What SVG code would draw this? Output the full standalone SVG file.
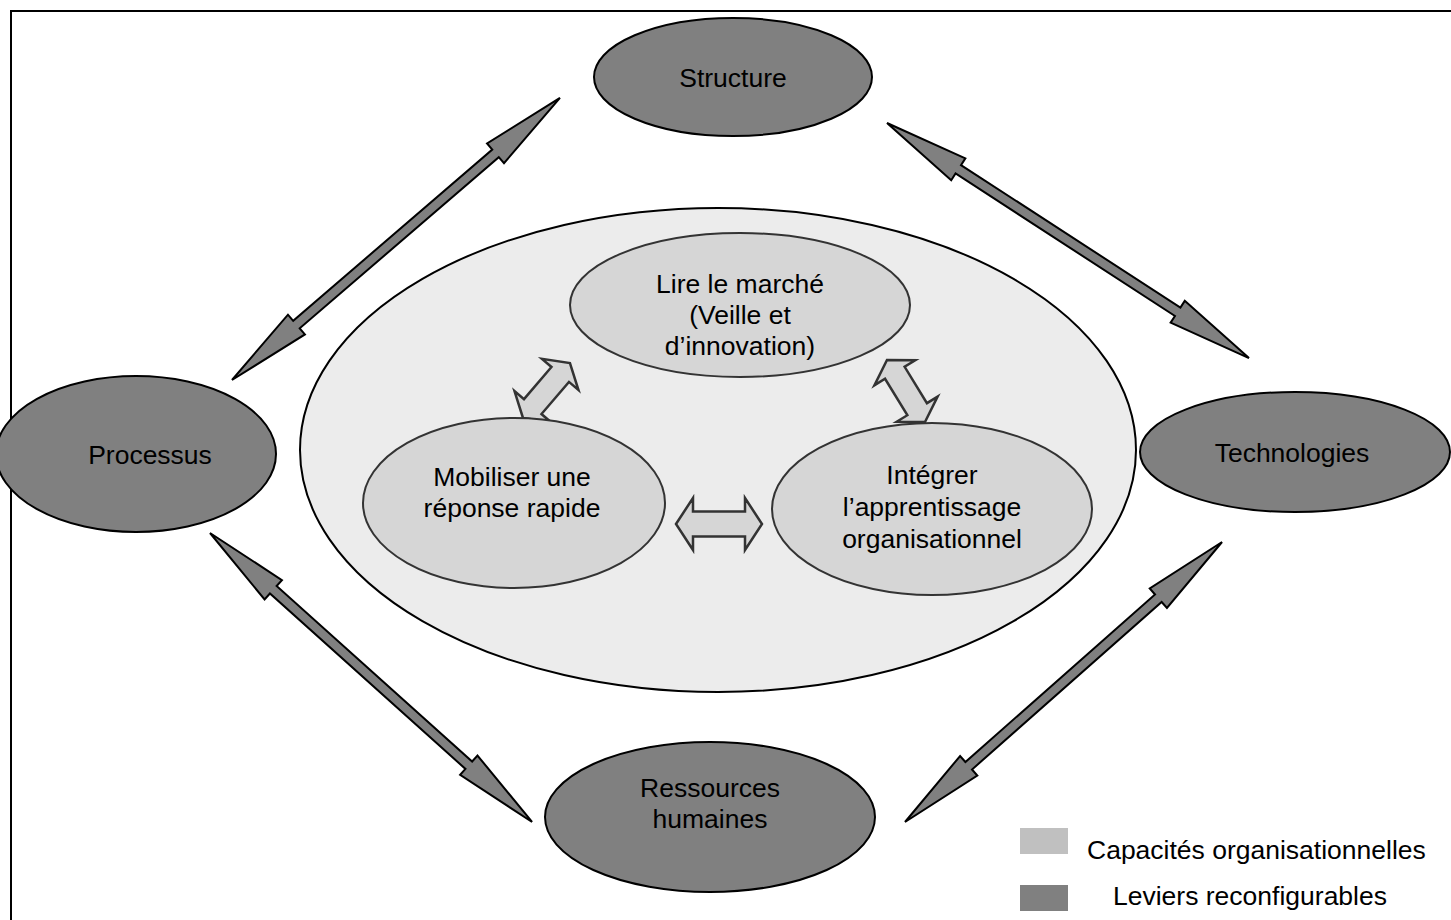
<svg xmlns="http://www.w3.org/2000/svg" width="1451" height="920" viewBox="0 0 1451 920">
<style>
text{font-family:"Liberation Sans",Arial,sans-serif;font-size:26.5px;fill:#000;text-anchor:middle}
.lev{fill:#808080;stroke:#000;stroke-width:2}
.cap{fill:#d6d6d6;stroke:#333;stroke-width:2}
.big{fill:#ececec;stroke:#000;stroke-width:2}
.darr{fill:#808080;stroke:#000;stroke-width:2;stroke-linejoin:miter}
.larr{fill:#d6d6d6;stroke:#333;stroke-width:2.5;stroke-linejoin:miter}
.lt{text-anchor:start}
</style>
<rect x="11" y="11" width="1460" height="930" fill="#fff" stroke="#000" stroke-width="2"/>
<g id="zone">
<ellipse class="big" cx="718" cy="450" rx="418" ry="242"/>
</g>
<g id="connectors">
<path class="darr" transform="translate(232,380) rotate(-40.7)" d="M0,0 L85,-13 L85,-5 L347.6,-5 L347.6,-13 L432.6,0 L347.6,13 L347.6,5 L85,5 L85,13 Z"/>
<path class="darr" transform="translate(887,123) rotate(33)" d="M0,0 L85,-13 L85,-5 L346.6,-5 L346.6,-13 L431.6,0 L346.6,13 L346.6,5 L85,5 L85,13 Z"/>
<path class="darr" transform="translate(210,533) rotate(41.9)" d="M0,0 L85,-13 L85,-5 L347.7,-5 L347.7,-13 L432.7,0 L347.7,13 L347.7,5 L85,5 L85,13 Z"/>
<path class="darr" transform="translate(905,822) rotate(-41.45)" d="M0,0 L85,-13 L85,-5 L338,-5 L338,-13 L423,0 L338,13 L338,5 L85,5 L85,13 Z"/>
<path class="larr" transform="translate(676,524)" d="M0,0 L17,-26 L17,-12.5 L69,-12.5 L69,-26 L86,0 L69,26 L69,12.5 L17,12.5 L17,26 Z"/>
<path class="larr" transform="translate(523,418) rotate(-49.5)" d="M0,0 L15,-24 L15,-11.5 L57.3,-11.5 L57.3,-24 L72.3,0 L57.3,24 L57.3,11.5 L15,11.5 L15,24 Z"/>
<path class="larr" transform="translate(887,360) rotate(58.5)" d="M0,0 L15,-24 L15,-11.5 L57.7,-11.5 L57.7,-24 L72.7,0 L57.7,24 L57.7,11.5 L15,11.5 L15,24 Z"/>
</g>
<g id="structure">
<ellipse class="lev" cx="733" cy="77" rx="139" ry="59"/>
<text x="733" y="86.5">Structure</text>
</g>
<g id="processus">
<ellipse class="lev" cx="136" cy="454" rx="140" ry="78"/>
<text x="150" y="463.5">Processus</text>
</g>
<g id="technologies">
<ellipse class="lev" cx="1295" cy="452" rx="155" ry="60"/>
<text x="1292" y="461.5">Technologies</text>
</g>
<g id="ressources">
<ellipse class="lev" cx="710" cy="817" rx="165" ry="75"/>
<text x="710" y="796.5">Ressources</text>
<text x="710" y="827.5">humaines</text>
</g>
<g id="lire">
<ellipse class="cap" cx="740" cy="305" rx="170" ry="72"/>
<text x="740" y="292.5">Lire le marché</text>
<text x="740" y="323.5">(Veille et</text>
<text x="740" y="354.5">d’innovation)</text>
</g>
<g id="mobiliser">
<ellipse class="cap" cx="514" cy="503" rx="151" ry="85"/>
<text x="512" y="485.5">Mobiliser une</text>
<text x="512" y="516.5">réponse rapide</text>
</g>
<g id="integrer">
<ellipse class="cap" cx="932" cy="509" rx="160" ry="86"/>
<text x="932" y="483.5">Intégrer</text>
<text x="932" y="515.5">l’apprentissage</text>
<text x="932" y="547.5">organisationnel</text>
</g>
<g id="legend">
<rect x="1020" y="828" width="48" height="26" fill="#c0c0c0"/>
<text class="lt" x="1087" y="858.5">Capacités organisationnelles</text>
<rect x="1020" y="885" width="48" height="26" fill="#808080"/>
<text class="lt" x="1113" y="905">Leviers reconfigurables</text>
</g>
</svg>
